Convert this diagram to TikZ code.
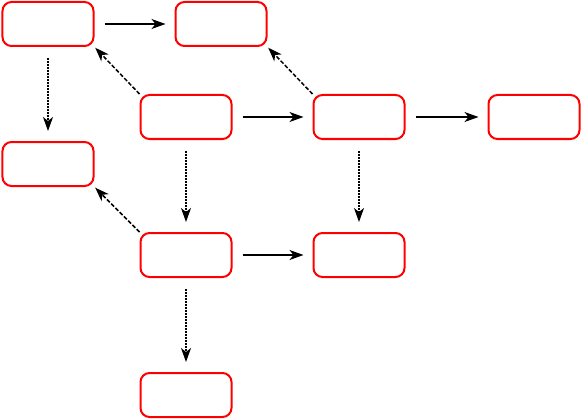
\documentclass[tikz,border=0pt]{standalone}
\usetikzlibrary{positioning,arrows.meta}
\tikzset{
    box/.style = {draw=red, line width=2pt, rounded corners=9pt, minimum width=91pt, minimum height=44pt},
    arrowline/.style = {-{Stealth[length=14pt,width=10pt,inset=4pt]}, line width=1.5pt},
    dotline/.style = {arrowline, dash pattern=on 1.8pt off 1.2pt},
    dashline/.style = {arrowline, dash pattern=on 4pt off 2pt}
}
\begin{document}
\begin{tikzpicture}[node distance={80pt}]
        \useasboundingbox (-48pt,24pt) rectangle (533pt,-396pt);
        \node[box] (a) at (0,0) {};
        \node[box] (b) [right=of a] {};
        \node[box] (c) [below right=47pt and 45pt of a] {};
        \node[box] (d) [right=of c] {};
        \node[box] (e) [right=82pt of d] {};
        \node[box] (f) [below=94pt of a] {};
        \node[box] (g) [below=92pt of c] {};
        \node[box] (h) [right=of g] {};
        \node[box] (i) [below=94pt of g] {};
        \draw[arrowline, shorten <=10pt, shorten >=9pt] (a) -- (b);
        \draw[arrowline, shorten <=10pt, shorten >=9pt] (c) -- (d);
        \draw[arrowline, shorten <=10pt, shorten >=9pt] (d) -- (e);
        \draw[arrowline, shorten <=10pt, shorten >=9pt] (g) -- (h);
        \draw[dotline, shorten <=11pt, shorten >=10pt] (a) -- (f);
        \draw[dotline, shorten <=11pt, shorten >=10pt] (c) -- (g);
        \draw[dotline, shorten <=11pt, shorten >=10pt] (d) -- (h);
        \draw[dotline, shorten <=11pt, shorten >=10pt] (g) -- (i);
        \draw[dashline, shorten <=0pt, shorten >=1pt] (c.north west) -- (a.south east);
        \draw[dashline, shorten <=0pt, shorten >=1pt] (d.north west) -- (b.south east);
        \draw[dashline, shorten <=0pt, shorten >=1pt] (g.north west) -- (f.south east);
    \end{tikzpicture}
\end{document}
